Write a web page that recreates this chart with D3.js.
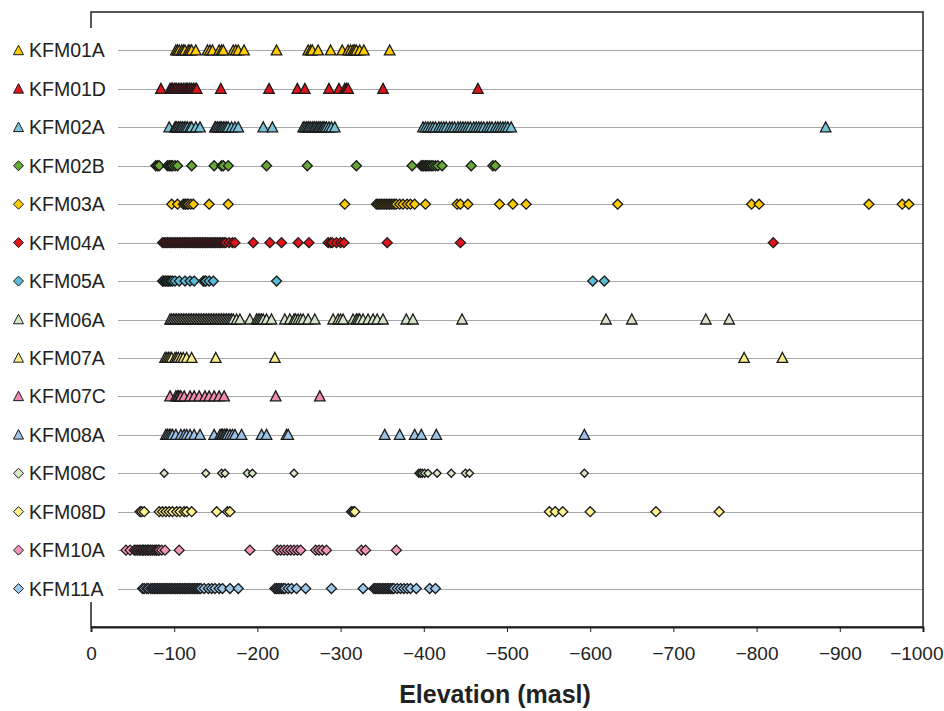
<!DOCTYPE html>
<html>
<head>
<meta charset="utf-8">
<script src="https://cdn.jsdelivr.net/npm/d3@7/dist/d3.min.js"></script>
<style>
  html, body { margin: 0; padding: 0; background: #fff; }
  svg { display: block; }
  text { font-family: "Liberation Sans", Arial, sans-serif; fill: #222; }
</style>
</head>
<body>
<svg id="chart" width="944" height="711"></svg>
<script>
const categories = ["KFM01A","KFM01D","KFM02A","KFM02B","KFM03A","KFM04A","KFM05A","KFM06A","KFM07A","KFM07C","KFM08A","KFM08C","KFM08D","KFM10A","KFM11A"];
const shapes = ["tri","tri","tri","dia","dia","dia","dia","tri","tri","tri","tri","dia","dia","dia","dia"];
const colors = ["#FFCC00","#E3131B","#78C4DA","#66AA33","#FFCC00","#E3131B","#5BBAD5","#D6E4C8","#FAEB8C","#F08CB0","#9CC3E6","#D9E8C4","#FFF28F","#F094B8","#9CC8EC"];
const xTicks = [0,-100,-200,-300,-400,-500,-600,-700,-800,-900,-1000];

const kfm01a = [-102,-104,-106,-109,-111,-113,-117,-119,-121,-126,-140,-143,-146,-154,-157,-159,-171,-174,-177,-184,-223,-261,-264,-266,-273,-288,-302,-309,-312,-315,-317,-319,-323,-328,-359];
const kfm01d = [-84,-95,-97,-98,-100,-101,-103,-105,-107,-109,-111,-113,-115,-116,-118,-119,-121,-123,-125,-127,-156,-214,-248,-257,-286,-298,-305,-307,-309,-351,-465];
const kfm02a = [-94,-101,-102,-103,-105,-107,-108,-110,-112,-114,-116,-119,-121,-126,-131,-149,-150,-152,-154,-156,-157,-159,-161,-163,-165,-169,-173,-177,-207,-218,-255,-257,-259,-261,-262,-264,-266,-268,-269,-271,-273,-274,-276,-278,-279,-281,-283,-286,-289,-293,-399,-402,-405,-408,-411,-414,-418,-421,-424,-427,-431,-434,-437,-441,-444,-447,-450,-453,-456,-460,-463,-466,-469,-472,-476,-479,-482,-486,-489,-492,-495,-498,-501,-505,-883];
const kfm02b = [-78,-80,-82,-92,-94,-95,-97,-98,-101,-104,-121,-148,-157,-159,-165,-211,-260,-319,-386,-397,-399,-400,-402,-403,-405,-407,-409,-411,-414,-417,-422,-457,-483,-486];
const kfm03a = [-97,-104,-111,-113,-114,-116,-117,-120,-123,-142,-165,-305,-343,-345,-347,-349,-351,-353,-355,-357,-359,-361,-363,-365,-367,-371,-375,-380,-384,-389,-402,-440,-444,-453,-491,-507,-523,-633,-794,-803,-935,-975,-983];
const kfm04a = [-86,-88,-90,-92,-94,-96,-98,-100,-102,-104,-106,-108,-110,-112,-114,-116,-118,-120,-122,-124,-126,-128,-130,-132,-134,-136,-138,-140,-142,-144,-146,-148,-150,-152,-154,-156,-158,-160,-162,-166,-170,-173,-195,-215,-229,-249,-262,-285,-288,-290,-295,-300,-304,-356,-444,-820];
const kfm05a = [-86,-87,-89,-90,-92,-93,-95,-96,-98,-101,-106,-113,-119,-124,-135,-137,-138,-142,-147,-223,-603,-617];
const kfm06a = [-95,-97,-99,-101,-103,-105,-107,-109,-111,-113,-115,-117,-119,-121,-123,-125,-127,-129,-131,-133,-135,-137,-139,-141,-143,-145,-147,-149,-151,-153,-155,-157,-159,-161,-163,-165,-167,-169,-171,-175,-179,-191,-199,-201,-203,-205,-207,-211,-217,-233,-239,-244,-246,-249,-252,-255,-261,-269,-291,-297,-300,-303,-315,-319,-321,-323,-327,-333,-339,-344,-351,-379,-387,-446,-619,-650,-739,-767];
const kfm07a = [-89,-91,-93,-95,-97,-101,-103,-105,-108,-111,-115,-121,-150,-221,-785,-831];
const kfm07c = [-95,-102,-104,-105,-107,-108,-112,-119,-124,-130,-137,-142,-148,-154,-160,-222,-275];
const kfm08a = [-90,-92,-94,-96,-98,-102,-108,-112,-115,-119,-124,-131,-148,-155,-157,-158,-160,-161,-163,-164,-167,-170,-173,-181,-205,-211,-235,-237,-353,-371,-389,-397,-415,-593];
const kfm08c = [-88,-138,-157,-161,-188,-194,-244,-394,-396,-398,-401,-405,-416,-433,-450,-455,-593];
const kfm08d = [-59,-61,-64,-82,-86,-90,-94,-98,-103,-107,-112,-115,-121,-151,-164,-167,-313,-315,-317,-551,-558,-567,-600,-679,-755];
const kfm10a = [-42,-47,-52,-54,-56,-58,-60,-62,-63,-65,-66,-68,-69,-71,-72,-74,-76,-78,-79,-81,-82,-85,-89,-106,-191,-224,-228,-232,-236,-240,-244,-248,-252,-270,-274,-278,-283,-325,-330,-367];
const kfm11a = [-62,-64,-67,-69,-72,-74,-76,-78,-80,-82,-84,-86,-88,-90,-92,-94,-96,-98,-100,-102,-104,-106,-108,-110,-112,-114,-116,-118,-120,-122,-124,-126,-128,-130,-132,-136,-141,-145,-149,-154,-158,-167,-177,-221,-223,-225,-227,-229,-231,-233,-237,-241,-247,-258,-289,-327,-340,-342,-344,-346,-348,-350,-352,-354,-356,-358,-360,-362,-364,-368,-372,-376,-380,-384,-391,-407,-414];

const seriesValues = [kfm01a,kfm01d,kfm02a,kfm02b,kfm03a,kfm04a,kfm05a,kfm06a,kfm07a,kfm07c,kfm08a,kfm08c,kfm08d,kfm10a,kfm11a];

const svg = d3.select("#chart");
const plotLeft = 91, plotRight = 923, plotTop = 12, plotBottom = 627;

const x = d3.scaleLinear().domain([0, -1000]).range([plotLeft, plotRight]);
const y = d3.scaleLinear().domain([0, categories.length + 1]).range([plotTop, plotBottom]);

// gridlines
svg.append("g").selectAll("line").data(categories).join("line")
  .attr("x1", 118).attr("x2", plotRight)
  .attr("y1", (d, i) => Math.round(y(i + 1)) + 0.5)
  .attr("y2", (d, i) => Math.round(y(i + 1)) + 0.5)
  .attr("stroke", "#a8a8a8").attr("stroke-width", 1);

// frame
svg.append("rect").attr("x", plotLeft).attr("y", plotTop).attr("width", plotRight - plotLeft).attr("height", plotBottom - plotTop)
  .attr("fill", "none").attr("stroke", "#222").attr("stroke-width", 1.5);

// x axis
const xAxis = d3.axisBottom(x).tickValues(xTicks).tickSize(5).tickFormat(d3.format("d"));
const gx = svg.append("g").attr("transform", `translate(0,${plotBottom})`).call(xAxis);
gx.select(".domain").attr("stroke", "#222").attr("stroke-width", 2);
gx.selectAll(".tick line").attr("stroke", "#222").attr("stroke-width", 1);
gx.selectAll(".tick text").attr("font-size", 19).attr("dy", "1.3em")
  .attr("font-family", "Liberation Sans, Arial, sans-serif").attr("fill", "#222")
  .filter(d => d === -1000)
  .attr("text-anchor", "end").attr("x", 943 - x(-1000));

svg.append("text").attr("x", 495).attr("y", 703).attr("text-anchor", "middle")
  .attr("font-size", 25).attr("font-weight", "bold").text("Elevation (masl)");

function markerPath(shape, s) {
  if (shape === "tri") {
    const w = s, h = s * 0.95;
    return `M0,${-h * 0.55}L${w / 2},${h * 0.45}L${-w / 2},${h * 0.45}Z`;
  }
  const r = s / 2;
  return `M0,${-r}L${r},0L0,${r}L${-r},0Z`;
}

// points
seriesValues.forEach((vals, i) => {
  const size = shapes[i] === "tri" ? 10.5 : (i === 11 ? 8 : 10);
  svg.append("g").selectAll("path").data(vals).join("path")
    .attr("transform", d => `translate(${x(d)},${y(i + 1)})`)
    .attr("d", markerPath(shapes[i], size))
    .attr("fill", colors[i]).attr("stroke", "#1a1a1a").attr("stroke-width", 1.3)
    .attr("stroke-linejoin", "miter");
});

// legend box (covers left axis)
svg.append("rect").attr("x", 0).attr("y", 28).attr("width", 117).attr("height", 574).attr("fill", "#fff");

const leg = svg.append("g").selectAll("g").data(categories).join("g")
  .attr("transform", (d, i) => `translate(0,${y(i + 1)})`);
leg.append("path")
  .attr("transform", "translate(18.5,0)")
  .attr("d", (d, i) => markerPath(shapes[i], 10))
  .attr("fill", (d, i) => colors[i]).attr("stroke", "#1a1a1a").attr("stroke-width", 1);
leg.append("text").attr("x", 29).attr("y", 0).attr("dy", "0.36em")
  .attr("font-size", 19.5).text(d => d);
</script>
</body>
</html>
